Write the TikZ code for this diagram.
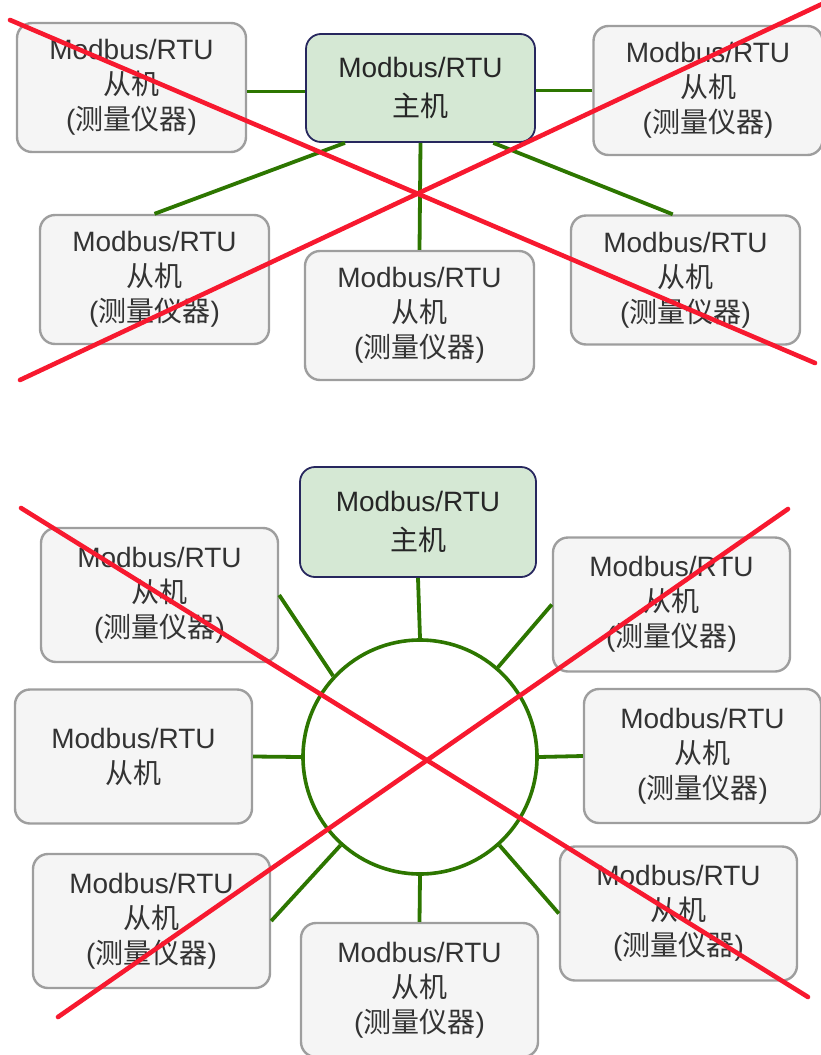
\documentclass[tikz,border=0pt]{standalone}
\usepackage{fontspec}
\setmainfont{Liberation Sans}
\newfontfamily\cjk{Noto Sans CJK SC}
\definecolor{busgreen}{HTML}{2D7600}
\definecolor{masterfill}{HTML}{D5E8D4}
\definecolor{masterline}{HTML}{27275E}
\definecolor{slavefill}{HTML}{F5F5F5}
\definecolor{slaveline}{HTML}{9E9E9E}
\definecolor{crossred}{HTML}{F7192F}

\begin{document}
\begin{tikzpicture}[
    x=0.5pt, y=-0.5pt,
    master/.style={rectangle, draw=masterline, fill=masterfill, line width=0.9pt, rounded corners=7.5pt, minimum width=114.5pt, minimum height=54pt, align=center, text=black!85, font=\fontsize{14}{19.5}\selectfont},
    slave/.style={rectangle, draw=slaveline, fill=slavefill, line width=1.2pt, rounded corners=7.5pt, minimum width=114.5pt, minimum height=64.5pt, align=center, text=black!80, font=\fontsize{14}{17.5}\selectfont},
    slavebig/.style={slave, minimum width=118.5pt, minimum height=67pt},
    ring/.style={circle, draw=busgreen, fill=white, line width=1.8pt, minimum size=117pt, inner sep=0pt},
    bus/.style={draw=busgreen, line width=1.9pt},
    cross/.style={draw=crossred, line width=2.3pt, line cap=round}
  ]
  \useasboundingbox (0,0) rectangle (820,1055);

  % star wiring
  \node[master] (m1) at (420.5,88) {Modbus/RTU\\{\cjk 主机}};

  \node[slave] (s1) at (131.5,87.5) {Modbus/RTU\\{\cjk 从机}\\({\cjk 测量仪器})};
  \node[slave] (s2) at (708,90.5)   {Modbus/RTU\\{\cjk 从机}\\({\cjk 测量仪器})};
  \node[slave] (s3) at (154.5,279.5) {Modbus/RTU\\{\cjk 从机}\\({\cjk 测量仪器})};
  \node[slave] (s4) at (419.5,315.5) {Modbus/RTU\\{\cjk 从机}\\({\cjk 测量仪器})};
  \node[slave] (s5) at (685.5,280)   {Modbus/RTU\\{\cjk 从机}\\({\cjk 测量仪器})};

  \draw[bus] ([yshift=-2pt]s1.east) -- ([yshift=-2pt]s1.east -| m1.west);
  \draw[bus] (s2.west) -- (s2.west -| m1.east);
  \draw[bus] (m1.216.5) -- (s3.north);
  \draw[bus] (m1.south) -- (s4.north);
  \draw[bus] (m1.323.5) -- (s5.101);

  \draw[cross] (10,20) -- (815,363);
  \draw[cross] (20,380) -- (822,4);

  % ring wiring
  \node[master, minimum width=118pt, minimum height=55pt] (m2) at (418,522) {Modbus/RTU\\{\cjk 主机}};
  \node[ring] (hub) at (420,757) {};

  \node[slavebig] (b1) at (159.5,595)   {Modbus/RTU\\{\cjk 从机}\\({\cjk 测量仪器})};
  \node[slavebig] (b2) at (133.5,756.5) {Modbus/RTU\\{\cjk 从机}};
  \node[slavebig] (b3) at (151.5,921)   {Modbus/RTU\\{\cjk 从机}\\({\cjk 测量仪器})};
  \node[slavebig] (b4) at (419.5,990)   {Modbus/RTU\\{\cjk 从机}\\({\cjk 测量仪器})};
  \node[slavebig] (b5) at (671.5,604.5) {Modbus/RTU\\{\cjk 从机}\\({\cjk 测量仪器})};
  \node[slavebig] (b6) at (702.5,756)   {Modbus/RTU\\{\cjk 从机}\\({\cjk 测量仪器})};
  \node[slavebig] (b7) at (678.5,913.5) {Modbus/RTU\\{\cjk 从机}\\({\cjk 测量仪器})};

  \draw[bus] (m2.south) -- (hub.north);
  \draw[bus] (b1.east) -- (hub.137);
  \draw[bus] (b2.east) -- (hub.west);
  \draw[bus] (b3.east) -- (hub.228);
  \draw[bus] (hub.south) -- (b4.north);
  \draw[bus] (hub.49) -- (b5.west);
  \draw[bus] (hub.east) -- (b6.west);
  \draw[bus] (hub.312) -- (b7.west);

  \draw[cross] (21,508) -- (808,997);
  \draw[cross] (58,1017) -- (788,509);
\end{tikzpicture}
\end{document}
